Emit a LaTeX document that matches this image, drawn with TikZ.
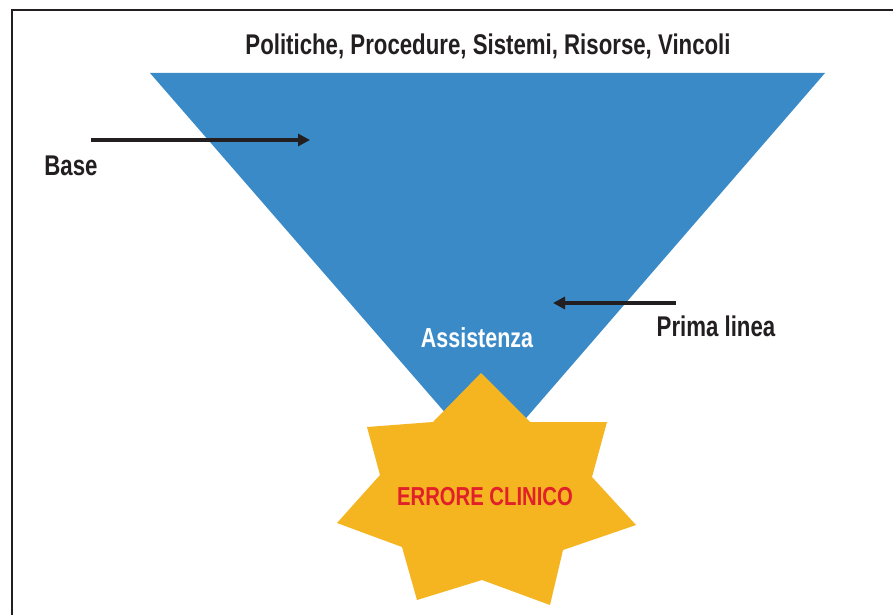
\documentclass[tikz,border=0pt]{standalone}
\usepackage{fontspec}
\newfontfamily\condfont{Liberation Sans}[FakeStretch=0.78]
\usetikzlibrary{arrows.meta}
\definecolor{triblue}{HTML}{3A8AC8}
\definecolor{staryellow}{HTML}{F5B521}
\definecolor{errred}{HTML}{E2202A}
\definecolor{inkdark}{HTML}{231F20}
\tikzset{
  lbl/.style={font=\condfont\bfseries\fontsize{28.5}{30}\selectfont, text=inkdark, inner sep=0pt},
  pointer/.style={draw=inkdark, line width=3.5pt, -{Triangle[length=12pt,width=12pt]}},
}
\begin{document}
\begin{tikzpicture}[x=1pt,y=-1pt]
\useasboundingbox (0,0) rectangle (893,615);
\fill[white] (0,0) rectangle (893,615);
% frame
\draw[inkdark, line width=1.5pt] (12,615) -- (12,10) -- (893,10);
% triangle
\fill[triblue] (150,73) -- (825,73) -- (488,462) -- cycle;
% star
\fill[staryellow] (481,373) -- (530,422) -- (607,422) -- (592,477) -- (636,525)
  -- (563,550) -- (550,605) -- (482,580) -- (417,600) -- (402,547) -- (337,523)
  -- (380,475) -- (367,427) -- (433,422) -- cycle;
% labels
\node[lbl] (top) at (488,46) {Politiche, Procedure, Sistemi, Risorse, Vincoli};
\node[lbl] (base) at (71,166) {Base};
\node[lbl] (prima) at (716,326) {Prima linea};
\node[lbl, text=white, font=\condfont\bfseries\fontsize{27.5}{29}\selectfont] (assist) at (477,338) {Assistenza};
\node[lbl, text=errred, font=\condfont\bfseries\fontsize{26}{28}\selectfont] (errore) at (485,497) {ERRORE CLINICO};
% arrows
\coordinate (bs) at (91,140);
\coordinate (be) at (310,140);
\coordinate (ps) at (676,303);
\coordinate (pe) at (553,303);
\draw[pointer] (bs) -- (be);
\draw[pointer] (ps) -- (pe);
\end{tikzpicture}
\end{document}
